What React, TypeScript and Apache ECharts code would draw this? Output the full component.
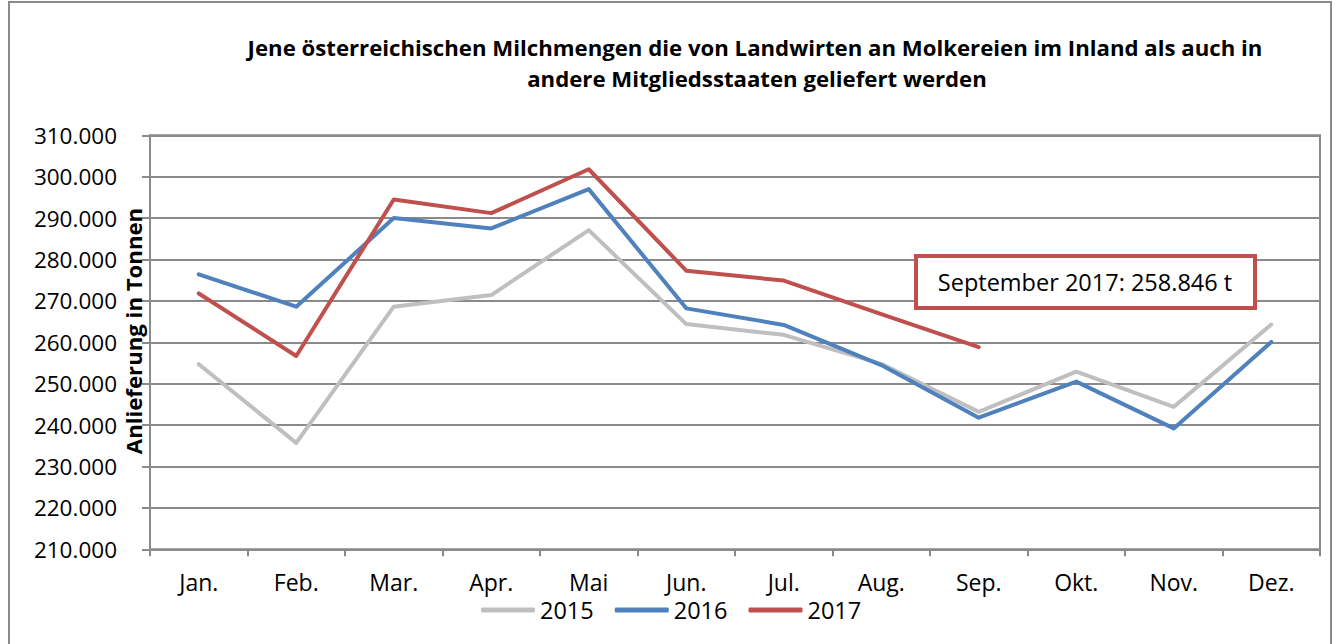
import React, { useEffect, useRef } from "react";
import * as echarts from "echarts";

const months = ["Jan.", "Feb.", "Mar.", "Apr.", "Mai", "Jun.", "Jul.", "Aug.", "Sep.", "Okt.", "Nov.", "Dez."];
const values2015 = [254700, 235700, 268600, 271400, 287100, 264400, 261800, 254800, 243200, 252900, 244400, 264300];
const values2016 = [276400, 268600, 290000, 287500, 297000, 268200, 264200, 254500, 241800, 250500, 239200, 260100];
const values2017 = [271800, 256700, 294500, 291200, 301800, 277300, 274900, 266800, 258846, null, null, null];
const seriesNames = ["2015", "2016", "2017"];
const titleLines = [
  "Jene österreichischen Milchmengen die von Landwirten an Molkereien im Inland als auch in",
  "andere Mitgliedsstaaten geliefert werden",
];
const yAxisTitle = "Anlieferung in Tonnen";
const annotationText = "September 2017: 258.846 t";

const FONT = "'Open Sans', sans-serif";
const GRID_COLOR = "#8a8a8a";

function fmt(v: number): string {
  const s = Math.round(v).toString();
  return s.replace(/\B(?=(\d{3})+(?!\d))/g, ".");
}

export default function App() {
  const ref = useRef<HTMLDivElement>(null);
  useEffect(() => {
    if (!ref.current) return;
    const chart = echarts.init(ref.current, null, { renderer: "svg" });
    const colors = ["#BFBFBF", "#4F81BD", "#C0504D"];
    const data = [values2015, values2016, values2017];
    chart.setOption({
      animation: false,
      backgroundColor: "#ffffff",
      color: colors,
      grid: {
        left: 150,
        right: 15,
        top: 135.3,
        bottom: 94.7,
        show: true,
        borderColor: GRID_COLOR,
        borderWidth: 2,
        outerBoundsMode: "none",
      },
      legend: {
        show: true,
        data: seriesNames,
        left: 481,
        top: 598,
        padding: 0,
        icon: "roundRect",
        itemWidth: 54,
        itemHeight: 5,
        itemGap: 21,
        textStyle: { fontFamily: FONT, fontSize: 23.5, lineHeight: 19, color: "#000" },
      },
      xAxis: {
        type: "category",
        data: months,
        boundaryGap: true,
        axisLine: { show: true, lineStyle: { color: GRID_COLOR, width: 2 } },
        axisTick: { show: true, length: 7, lineStyle: { color: GRID_COLOR, width: 2 } },
        axisLabel: { margin: 22, fontFamily: FONT, fontSize: 23, lineHeight: 21, color: "#000" },
        splitLine: { show: false },
      },
      yAxis: {
        type: "value",
        min: 210000,
        max: 310000,
        interval: 10000,
        axisLine: { show: true, lineStyle: { color: GRID_COLOR, width: 2 } },
        axisTick: { show: true, length: 8, lineStyle: { color: GRID_COLOR, width: 2 } },
        axisLabel: { margin: 33, fontFamily: FONT, fontSize: 22.5, color: "#000", formatter: (v: number) => fmt(v) },
        splitLine: { show: true, lineStyle: { color: GRID_COLOR, width: 2 } },
      },
      series: seriesNames.map((name, i) => ({
        name,
        type: "line",
        data: data[i],
        symbol: "none",
        showSymbol: false,
        connectNulls: false,
        lineStyle: { width: 4, color: colors[i], cap: "round", join: "round" },
        itemStyle: { color: colors[i] },
        z: 2 + i,
      })),
      graphic: [
        {
          type: "rect",
          shape: { x: 9, y: 2, width: 1322, height: 700 },
          style: { fill: "none", stroke: GRID_COLOR, lineWidth: 2 },
          silent: true,
          z: 0,
        },
        {
          type: "text",
          x: 755,
          y: 47,
          style: {
            text: titleLines[0],
            fontFamily: FONT,
            fontWeight: "bold",
            fontSize: 22.2,
            fill: "#000",
            align: "center",
            verticalAlign: "middle",
          },
        },
        {
          type: "text",
          x: 757,
          y: 78,
          style: {
            text: titleLines[1],
            fontFamily: FONT,
            fontWeight: "bold",
            fontSize: 22.2,
            fill: "#000",
            align: "center",
            verticalAlign: "middle",
          },
        },
        {
          type: "text",
          x: 133,
          y: 331,
          rotation: Math.PI / 2,
          style: {
            text: yAxisTitle,
            fontFamily: FONT,
            fontWeight: "bold",
            fontSize: 22.2,
            fill: "#000",
            align: "center",
            verticalAlign: "middle",
          },
          z: 10,
        },
        {
          type: "rect",
          shape: { x: 916, y: 256, width: 339, height: 52 },
          style: { fill: "#ffffff", stroke: "#C0504D", lineWidth: 4 },
          z: 10,
        },
        {
          type: "text",
          x: 1085,
          y: 282,
          style: {
            text: annotationText,
            fontFamily: FONT,
            fontSize: 23.5,
            fill: "#000",
            align: "center",
            verticalAlign: "middle",
          },
          z: 11,
        },
      ],
    });
    return () => chart.dispose();
  }, []);
  return <div ref={ref} style={{ position: "fixed", left: 0, top: 0, width: 1335, height: 644 }} />;
}
